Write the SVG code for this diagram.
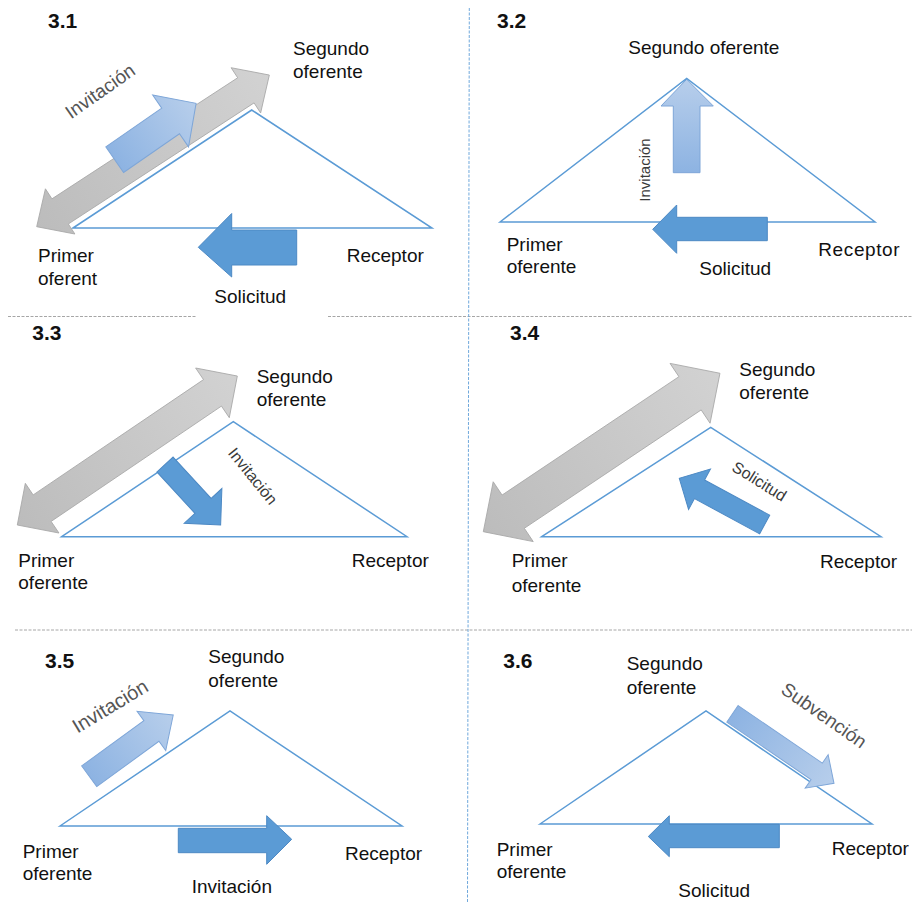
<svg xmlns="http://www.w3.org/2000/svg" width="912" height="903" viewBox="0 0 912 903">
<style>
  text { font-family: "Liberation Sans", Arial, sans-serif; fill: #111; }
  .lbl { font-size: 19px; }
  .num { font-size: 21px; font-weight: bold; }
  .rot { fill: #555; }
  .rs { font-size: 15px; fill: #3a3a3a; }
  .tri { fill: #fff; stroke: #5B9BD5; stroke-width: 1.5; stroke-linejoin: miter; }
  .gray { fill: url(#gg); stroke: #A8A8A8; stroke-width: 0.8; }
  .light { fill: url(#lb); stroke: #7EA6D8; stroke-width: 1; }
  .blue { fill: #5B9BD5; stroke: #4D89C4; stroke-width: 1; }
  .sep { stroke: #A6A6A6; stroke-width: 1; stroke-dasharray: 3 1.5; fill: none; }
  .vsep { stroke: #6FA8DC; stroke-width: 1; stroke-dasharray: 3 1.5; fill: none; }
</style>
<defs>
  <linearGradient id="gg" x1="0" y1="0" x2="1" y2="0">
    <stop offset="0" stop-color="#BCBCBC"/>
    <stop offset="1" stop-color="#D2D2D2"/>
  </linearGradient>
  <linearGradient id="lb" x1="0" y1="0" x2="1" y2="0">
    <stop offset="0" stop-color="#8DB3E2"/>
    <stop offset="1" stop-color="#B7CEEB"/>
  </linearGradient>
</defs>

<g id="separators">
  <line class="sep" x1="8" y1="316.5" x2="197" y2="316.5"/>
  <line class="sep" x1="328" y1="316.5" x2="912" y2="316.5"/>
  <line class="sep" x1="15" y1="630" x2="912" y2="630"/>
  <line class="vsep" x1="469.3" y1="8" x2="467.5" y2="903"/>
</g>

<!-- Panel 3.1 -->
<g id="panel-3-1">
  <g id="p31-triangle"><polygon class="tri" points="73,228 251.7,110 432,228"/></g>
  <g id="p31-connectors">
    <path class="gray" transform="translate(36.7,226.7) rotate(-33.1)" d="M0,0 L28,-27 V-15 H249.7 V-27 L277.7,0 L249.7,27 V15 H28 V27 Z"/>
    <path class="light" transform="translate(114.7,159.7) rotate(-34.7)" d="M0,-15.6 H68 V-31.5 L99,0 L68,31.5 V15.6 H0 Z"/>
    <polygon class="blue" points="296.7,230 231.7,230 231.7,213.5 198.3,247.3 231.7,277 231.7,265 296.7,265"/>
  </g>
  <text class="num" x="48" y="28.3">3.1</text>
  <g id="p31-segundo"><text class="lbl" x="293" y="54.5">Segundo</text><text class="lbl" x="293" y="77.5">oferente</text></g>
  <g id="p31-primer"><text class="lbl" x="38" y="262.3">Primer</text><text class="lbl" x="38" y="285">oferent</text></g>
  <g id="p31-receptor"><text class="lbl" x="346.7" y="261.7">Receptor</text></g>
  <text class="lbl rot" text-anchor="middle" transform="translate(103.9,96.4) rotate(-35)">Invitación</text>
  <text class="lbl" x="214.3" y="303.3">Solicitud</text>
</g>

<!-- Panel 3.2 -->
<g id="panel-3-2">
  <g id="p32-connectors-up">
    <polygon class="light" points="673.3,172.7 673.3,106 661,106 686.7,79.3 713.3,106 700,106 700,172.7" style="fill:url(#lbv)"/>
  </g>
  <g id="p32-triangle"><polygon class="tri" points="500,222 686.7,78.5 875,222" style="fill:none"/></g>
  <g id="p32-connectors">
    <polygon class="blue" points="767.3,217.3 676.7,217.3 676.7,205 652.7,229.3 676.7,253.3 676.7,240.7 767.3,240.7"/>
  </g>
  <text class="num" x="497" y="28.3">3.2</text>
  <g id="p32-segundo"><text class="lbl" x="628.3" y="54">Segundo oferente</text></g>
  <g id="p32-primer"><text class="lbl" x="506.7" y="250.7">Primer</text><text class="lbl" x="506.7" y="273.3">oferente</text></g>
  <g id="p32-receptor"><text class="lbl" x="818.3" y="255.7" letter-spacing="0.6">Receptor</text></g>
  <text class="rs" text-anchor="middle" transform="translate(649.9,170) rotate(-90)">Invitación</text>
  <text class="lbl" x="699.3" y="275.3">Solicitud</text>
</g>

<!-- Panel 3.3 -->
<g id="panel-3-3">
  <g id="p33-triangle"><polygon class="tri" points="61.7,536.7 233.3,421.7 407,536.7"/></g>
  <g id="p33-connectors">
    <path class="gray" transform="translate(17.3,525) rotate(-34.1)" d="M0,0 L30,-30 V-16 H235.7 V-30 L265.7,0 L235.7,30 V16 H30 V30 Z"/>
    <path class="blue" transform="translate(165,464.5) rotate(47.4)" d="M0,-11 H56.2 V-25.6 L82.2,0 L56.2,25.6 V11 H0 Z"/>
  </g>
  <text class="num" x="32.3" y="339.5">3.3</text>
  <g id="p33-segundo"><text class="lbl" x="256.7" y="382.7">Segundo</text><text class="lbl" x="256.7" y="406">oferente</text></g>
  <g id="p33-primer"><text class="lbl" x="18.3" y="566.7">Primer</text><text class="lbl" x="18.3" y="589">oferente</text></g>
  <g id="p33-receptor"><text class="lbl" x="351.7" y="566.7">Receptor</text></g>
  <text class="rs" font-size="16" text-anchor="middle" transform="translate(248.5,479.6) rotate(51)" style="font-size:16px">Invitación</text>
</g>

<!-- Panel 3.4 -->
<g id="panel-3-4">
  <g id="p34-triangle"><polygon class="tri" points="541.7,536.7 710.7,427.3 881,536.7"/></g>
  <g id="p34-connectors">
    <path class="gray" transform="translate(483.3,531.7) rotate(-33.8)" d="M0,0 L36,-36 V-20 H248.8 V-36 L284.8,0 L248.8,36 V20 H36 V36 Z"/>
    <path class="blue" transform="translate(764.7,524.5) rotate(-151.6)" d="M0,-10.6 H74.1 V-23 L97.1,0 L74.1,23 V10.6 H0 Z"/>
  </g>
  <text class="num" x="510" y="339.5">3.4</text>
  <g id="p34-segundo"><text class="lbl" x="739.3" y="376">Segundo</text><text class="lbl" x="739.3" y="399.3">oferente</text></g>
  <g id="p34-primer"><text class="lbl" x="511.7" y="567.3">Primer</text><text class="lbl" x="511.7" y="592.3">oferente</text></g>
  <g id="p34-receptor"><text class="lbl" x="820" y="567.7">Receptor</text></g>
  <text class="rs" text-anchor="middle" transform="translate(756.5,485.9) rotate(32)" style="font-size:16px">Solicitud</text>
</g>

<!-- Panel 3.5 -->
<g id="panel-3-5">
  <g id="p35-triangle"><polygon class="tri" points="60,826 230,711 402,826"/></g>
  <g id="p35-connectors">
    <path class="light" transform="translate(89.2,776.3) rotate(-36.1)" d="M0,-12.8 H77 V-24.3 L104,0 L77,24.3 V12.8 H0 Z"/>
    <polygon class="blue" points="178.3,828.3 266.7,828.3 266.7,815.7 291.7,839.3 266.7,864.3 266.7,852.7 178.3,852.7"/>
  </g>
  <text class="num" x="45" y="668.3">3.5</text>
  <g id="p35-segundo"><text class="lbl" x="208.3" y="663.3">Segundo</text><text class="lbl" x="208.3" y="686.7">oferente</text></g>
  <g id="p35-primer"><text class="lbl" x="22.7" y="858.3">Primer</text><text class="lbl" x="22.7" y="880">oferente</text></g>
  <g id="p35-receptor"><text class="lbl" x="345" y="860">Receptor</text></g>
  <text class="lbl rot" text-anchor="middle" transform="translate(113.7,712) rotate(-31)" style="font-size:20px">Invitación</text>
  <text class="lbl" x="191.7" y="893.3">Invitación</text>
</g>

<!-- Panel 3.6 -->
<g id="panel-3-6">
  <g id="p36-triangle"><polygon class="tri" points="540,824 706,711 872,824"/></g>
  <g id="p36-connectors">
    <path class="light" transform="translate(732.5,713.8) rotate(34.4)" d="M0,-10 H102 V-20.3 L123,0 L102,20.3 V10 H0 Z"/>
    <polygon class="blue" points="779.3,824.3 669.3,824.3 669.3,815.7 648.3,836.5 669.3,856.7 669.3,847.7 779.3,847.7"/>
  </g>
  <text class="num" x="503.3" y="668.3">3.6</text>
  <g id="p36-segundo"><text class="lbl" x="626.7" y="670">Segundo</text><text class="lbl" x="626.7" y="694.3">oferente</text></g>
  <g id="p36-primer"><text class="lbl" x="496.7" y="855.7">Primer</text><text class="lbl" x="496.7" y="878.3">oferente</text></g>
  <g id="p36-receptor"><text class="lbl" x="831.7" y="855">Receptor</text></g>
  <text class="lbl rot" text-anchor="middle" transform="translate(820.3,720.6) rotate(35)">Subvención</text>
  <text class="lbl" x="678.3" y="896.7">Solicitud</text>
</g>

<defs>
  <linearGradient id="lbv" x1="0" y1="1" x2="0" y2="0">
    <stop offset="0" stop-color="#8DB3E2"/>
    <stop offset="1" stop-color="#B7CEEB"/>
  </linearGradient>
</defs>
</svg>
